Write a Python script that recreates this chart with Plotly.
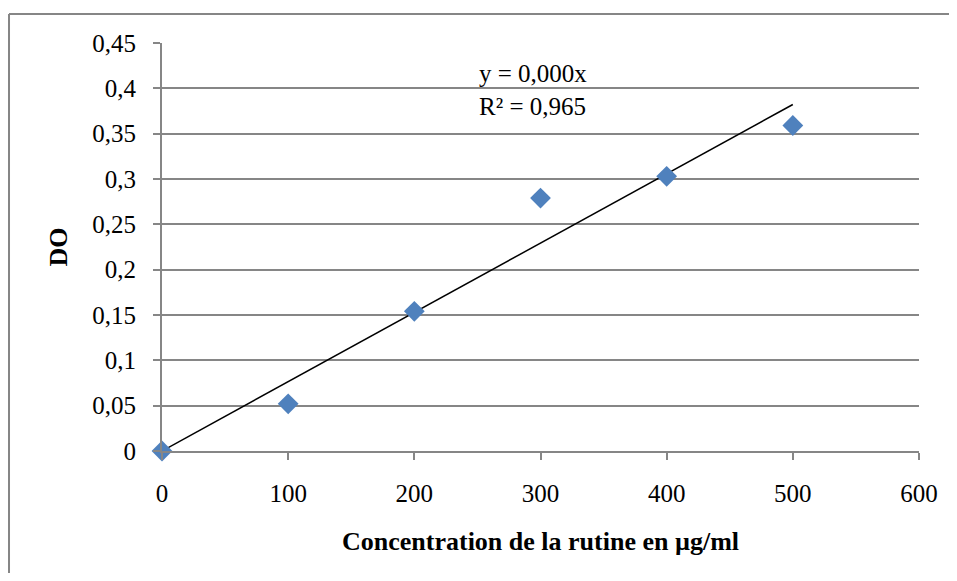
import plotly.graph_objects as go

# concentration (µg/ml) et densité optique
conc = [0, 100, 200, 300, 400, 500]
do_vals = [0.0, 0.052, 0.154, 0.279, 0.303, 0.359]

y_ticks = [0, 0.05, 0.1, 0.15, 0.2, 0.25, 0.3, 0.35, 0.4, 0.45]
y_labels = ["0", "0,05", "0,1", "0,15", "0,2", "0,25", "0,3", "0,35", "0,4", "0,45"]
x_ticks = [0, 100, 200, 300, 400, 500, 600]

# courbe de tendance linéaire passant par l'origine (moindres carrés)
slope = sum(x * y for x, y in zip(conc, do_vals)) / sum(x * x for x in conc)
trend_x = [conc[0], conc[-1]]
trend_y = [slope * x for x in trend_x]

font = "Liberation Serif, Times New Roman, serif"
grey = "#868686"

fig = go.Figure()

fig.add_trace(go.Scatter(
    x=trend_x, y=trend_y, mode="lines",
    line=dict(color="black", width=1.5),
    showlegend=False, hoverinfo="skip"))

fig.add_trace(go.Scatter(
    x=conc, y=do_vals, mode="markers", cliponaxis=False,
    marker=dict(symbol="diamond", size=16, color="#4F81BD",
                line=dict(width=0)),
    showlegend=False))

fig.update_xaxes(
    range=[0, 600], tickvals=x_ticks, showgrid=False, zeroline=False,
    showline=True, linecolor=grey, linewidth=2,
    ticks="outside", ticklen=7, tickcolor=grey, tickwidth=2,
    ticklabelstandoff=12, automargin=False,
    tickfont=dict(family=font, size=25, color="black"))

fig.update_yaxes(
    range=[0, 0.45], tickvals=y_ticks, ticktext=y_labels,
    showgrid=True, gridcolor=grey, gridwidth=2, zeroline=False,
    showline=True, linecolor=grey, linewidth=2,
    ticks="outside", ticklen=7, tickcolor=grey, tickwidth=2,
    ticklabelstandoff=12, automargin=False,
    tickfont=dict(family=font, size=25, color="black"))

fig.add_annotation(
    text="y = 0,000x<br>R² = 0,965", xref="x", yref="y",
    x=250, y=0.398, xanchor="left", yanchor="middle", align="left",
    showarrow=False, font=dict(family=font, size=25, color="black"))

fig.add_annotation(
    text="<b>Concentration de la rutine en µg/ml</b>", xref="paper", yref="paper",
    x=0.5, y=-0.222, xanchor="center", yanchor="middle", showarrow=False,
    font=dict(family=font, size=26, color="black"))

fig.add_annotation(
    text="<b>DO</b>", xref="paper", yref="paper",
    x=-0.138, y=0.5, xanchor="center", yanchor="middle", textangle=-90,
    showarrow=False, font=dict(family=font, size=26, color="black"))

# cadre extérieur du graphique (bords haut et gauche seulement visibles)
fig.add_shape(type="line", xref="paper", yref="paper",
              x0=-0.2021, y0=1.0711, x1=1.3, y1=1.0711,
              line=dict(color=grey, width=2), layer="below")
fig.add_shape(type="line", xref="paper", yref="paper",
              x0=-0.2021, y0=1.0711, x1=-0.2021, y1=-0.6,
              line=dict(color=grey, width=2), layer="below")

fig.update_layout(
    width=941, height=565,
    margin=dict(l=154, r=30, t=35, b=122),
    plot_bgcolor="white", paper_bgcolor="white",
    showlegend=False)

fig.write_html("out.html")
